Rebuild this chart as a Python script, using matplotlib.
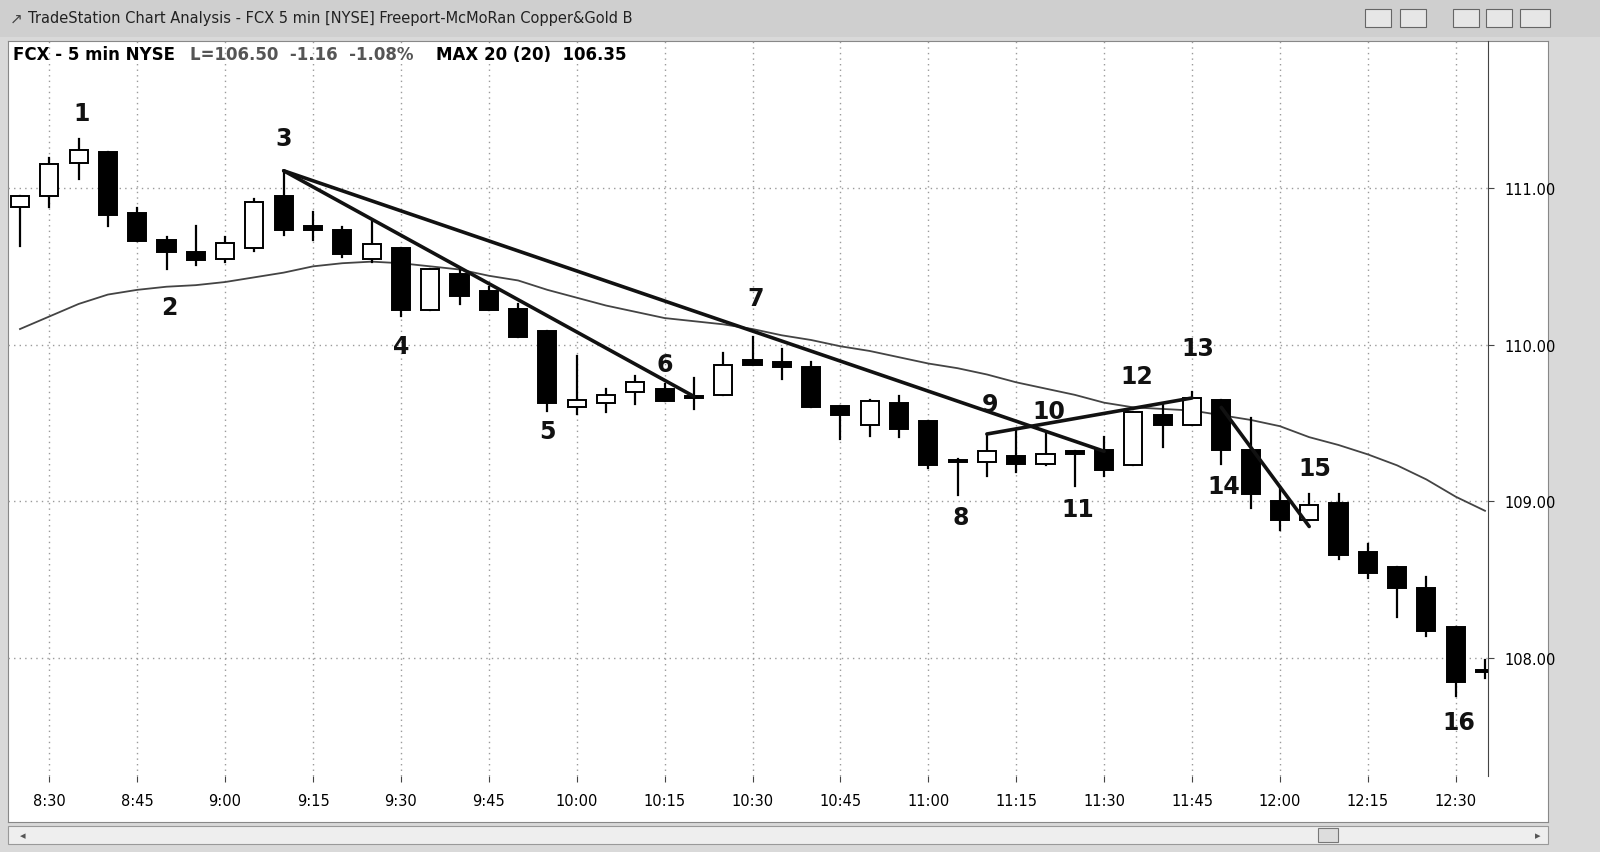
import matplotlib
matplotlib.use("Agg")
import matplotlib.pyplot as plt
from matplotlib.patches import Rectangle

times = ["8:25","8:30","8:35","8:40","8:45","8:50","8:55","9:00","9:05","9:10","9:15","9:20","9:25",
         "9:30","9:35","9:40","9:45","9:50","9:55","10:00","10:05","10:10","10:15","10:20","10:25",
         "10:30","10:35","10:40","10:45","10:50","10:55","11:00","11:05","11:10","11:15","11:20","11:25",
         "11:30","11:35","11:40","11:45","11:50","11:55","12:00","12:05","12:10","12:15","12:20","12:25",
         "12:30","12:35"]
opens = [110.88,110.95,111.16,111.23,110.84,110.67,110.59,110.55,110.62,110.95,110.76,110.73,110.55,
         110.62,110.22,110.45,110.34,110.23,110.09,109.60,109.63,109.70,109.72,109.67,109.68,
         109.90,109.89,109.86,109.61,109.49,109.63,109.51,109.26,109.25,109.29,109.24,109.32,
         109.33,109.23,109.55,109.49,109.65,109.33,109.00,108.88,108.99,108.68,108.58,108.45,
         108.20,107.92]
closes = [110.95,111.15,111.24,110.83,110.66,110.59,110.54,110.65,110.91,110.73,110.73,110.58,110.64,
          110.22,110.48,110.31,110.22,110.05,109.63,109.65,109.68,109.76,109.64,109.66,109.87,
          109.87,109.86,109.60,109.55,109.64,109.46,109.23,109.25,109.32,109.24,109.30,109.30,
          109.20,109.57,109.49,109.66,109.33,109.05,108.88,108.98,108.66,108.54,108.45,108.17,
          107.85,107.91]
highs = [110.95,111.19,111.31,111.23,110.87,110.69,110.76,110.69,110.93,111.11,110.85,110.75,110.79,
         110.62,110.48,110.48,110.37,110.26,110.09,109.93,109.72,109.80,109.75,109.79,109.95,
         110.05,109.97,109.89,109.61,109.65,109.67,109.51,109.27,109.43,109.46,109.43,109.32,
         109.41,109.57,109.62,109.70,109.65,109.53,109.09,109.05,109.05,108.73,108.58,108.52,
         108.20,107.99]
lows = [110.63,110.88,111.06,110.76,110.66,110.48,110.51,110.53,110.60,110.70,110.67,110.56,110.53,
        110.18,110.22,110.26,110.22,110.05,109.58,109.56,109.57,109.62,109.64,109.59,109.68,
        109.87,109.78,109.60,109.40,109.42,109.41,109.21,109.04,109.16,109.19,109.23,109.10,
        109.16,109.23,109.35,109.49,109.24,108.96,108.82,108.88,108.63,108.51,108.26,108.14,
        107.76,107.87]
ma20 = [110.10,110.18,110.26,110.32,110.35,110.37,110.38,110.40,110.43,110.46,110.50,110.52,110.53,
        110.52,110.50,110.48,110.44,110.41,110.35,110.30,110.25,110.21,110.17,110.15,110.13,
        110.10,110.06,110.03,109.99,109.96,109.92,109.88,109.85,109.81,109.76,109.72,109.68,
        109.63,109.60,109.59,109.58,109.55,109.52,109.48,109.41,109.36,109.30,109.23,109.14,
        109.03,108.94]
trendlines = [((9, 111.11), (23, 109.67)),
              ((9, 111.11), (37, 109.32)),
              ((33, 109.43), (40, 109.66)),
              ((41, 109.60), (44, 108.84))]
labels = ["1","2","3","4","5","6","7","8","9","10","11","12","13","14","15","16"]
label_pos = [(2.1,111.48),(5.1,110.24),(9.0,111.32),(13.0,109.99),(18.0,109.45),(22.0,109.88),
             (25.1,110.30),(32.1,108.90),(33.1,109.62),(35.1,109.58),(36.1,108.95),(38.1,109.80),
             (40.2,109.98),(41.1,109.10),(44.2,109.21),(49.1,107.59)]
yticks = [108.0, 109.0, 110.0, 111.0]
xtick_idx = list(range(1, 51, 3))

W, H = 1600, 853
fig = plt.figure(figsize=(16, 8.53), dpi=100)
fig.patch.set_facecolor("#d9d9d9")

tb = fig.add_axes([0, 1 - 38 / H, 1, 38 / H])
tb.set_xlim(0, W); tb.set_ylim(0, 38); tb.axis("off")
tb.add_patch(Rectangle((0, 0), W, 38, color="#cfcfcf"))
tb.text(28, 19, "TradeStation Chart Analysis - FCX 5 min [NYSE] Freeport-McMoRan Copper&Gold B",
        fontsize=10.5, va="center", color="#222222", family="DejaVu Sans")
tb.text(10, 19, "\u2197", fontsize=11, va="center", color="#444444")
for bx, bw in [(1365, 26), (1400, 26), (1453, 26), (1486, 26), (1520, 30)]:
    tb.add_patch(Rectangle((bx, 10), bw, 18, facecolor="#e6e6e6", edgecolor="#666666", lw=0.8))

bs = fig.add_axes([0, 0, 1, 30 / H])
bs.set_xlim(0, W); bs.set_ylim(0, 30); bs.axis("off")
bs.add_patch(Rectangle((8, 8), 1540, 18, facecolor="#eeeeee", edgecolor="#999999", lw=0.8))
bs.add_patch(Rectangle((1318, 10), 20, 14, facecolor="#dddddd", edgecolor="#777777", lw=0.8))
bs.text(20, 17, "\u25c2", fontsize=8, va="center", color="#555555")
bs.text(1535, 17, "\u25b8", fontsize=8, va="center", color="#555555")

bg = fig.add_axes([8 / W, 30 / H, 1540 / W, (H - 38 - 30 - 4) / H])
bg.set_facecolor("white")
bg.set_xticks([]); bg.set_yticks([])
for s in bg.spines.values():
    s.set_color("#888888")

x0, dx = 20, 29.3
left_px, right_px, top_px, bot_px = 8, 1488, 42, 777
ax = fig.add_axes([left_px / W, 1 - bot_px / H, (right_px - left_px) / W, (bot_px - top_px) / H])
ax.set_xlim((left_px - x0) / dx, (right_px - x0) / dx)
ax.set_ylim(111 - (bot_px - 189) / 156.7, 111 + (189 - top_px) / 156.7)
ax.set_facecolor("none")
for s in ["left", "top", "bottom"]:
    ax.spines[s].set_visible(False)
ax.spines["right"].set_color("#444444")
ax.yaxis.tick_right()
ax.set_yticks(yticks)
ax.set_yticklabels([f"{v:.2f}" for v in yticks], fontsize=10.5)
ax.set_xticks(xtick_idx)
ax.set_xticklabels([times[i] for i in xtick_idx], fontsize=10.5)
ax.tick_params(axis="both", length=4, color="#444444", pad=8)
ax.grid(True, color="#9a9a9a", linestyle=(0, (1, 3)), lw=1)

bw = 0.62
for i in range(len(times)):
    o, c, h, l = opens[i], closes[i], highs[i], lows[i]
    ax.plot([i, i], [l, h], color="black", lw=1.6, zorder=3)
    lo, hi = min(o, c), max(o, c)
    hgt = max(hi - lo, 0.012)
    fc = "white" if c >= o else "black"
    ax.add_patch(Rectangle((i - bw / 2, lo), bw, hgt, facecolor=fc, edgecolor="black", lw=1.4, zorder=4))

ax.plot(range(len(ma20)), ma20, color="#444444", lw=1.3, zorder=2)
for (a, b) in trendlines:
    ax.plot([a[0], b[0]], [a[1], b[1]], color="#111111", lw=2.6, zorder=5, solid_capstyle="round")
for t, (xx, yy) in zip(labels, label_pos):
    ax.text(xx, yy, t, fontsize=17, fontweight="bold", ha="center", va="center", color="#111111", zorder=6)

fig.text(13 / W, 1 - 55 / H, "FCX - 5 min NYSE", fontsize=12, fontweight="bold", va="center")
fig.text(190 / W, 1 - 55 / H, "L=106.50  -1.16  -1.08%", fontsize=12, fontweight="bold",
         va="center", color="#555555")
fig.text(436 / W, 1 - 55 / H, "MAX 20 (20)  106.35", fontsize=12, fontweight="bold", va="center")

fig.savefig("out.png", dpi=100, facecolor=fig.get_facecolor())
